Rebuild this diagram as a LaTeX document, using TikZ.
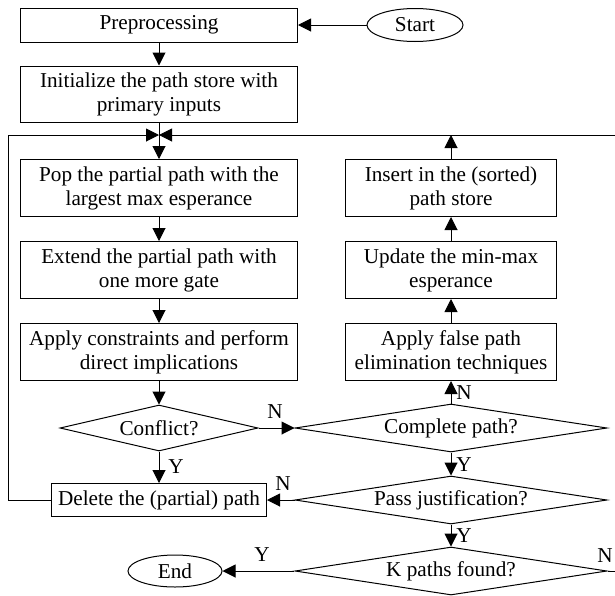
\documentclass[tikz,border=0pt]{standalone}
\usepackage{fontspec}
\setmainfont{Liberation Serif}
\usetikzlibrary{
    arrows.meta,
    shapes.geometric
}

\begin{document}
\begin{tikzpicture}[x=0.5pt, y=-0.5pt, line width=0.5pt,
    font=\fontsize{10.6}{12}\selectfont,
    >={Triangle[length=6.5pt, width=6.5pt]},
    box/.style={draw, rectangle, align=center, inner sep=1pt, minimum width=138.5pt, minimum height=28.5pt},
    sidebox/.style={box, minimum width=105.5pt},
    decision/.style={draw, diamond, aspect=6, inner sep=0pt, minimum width=156pt, minimum height=24pt},
    terminal/.style={draw, ellipse, inner sep=0pt, minimum width=48pt, minimum height=16.5pt},
    lbl/.style={inner sep=0pt}]
                        \useasboundingbox (0, 0) rectangle (615, 595);

                        \node[box, minimum height=17pt] (prep) at (159, 25) {Preprocessing};
                        \node[terminal] (start) at (415, 25) {Start};
                        \node[box, minimum height=28pt] (init) at (159, 94) {Initialize the path store with\\primary inputs};
                        \node[box] (pop) at (159, 188) {Pop the partial path with the\\largest max esperance};
                        \node[box] (extend) at (159, 270) {Extend the partial path with\\one more gate};
                        \node[box] (apply) at (159, 352) {Apply constraints and perform\\direct implications};
                        \node[decision, minimum width=99pt, minimum height=23pt] (conflict) at (159, 428) {Conflict?};
                        \node[box, minimum width=107.5pt, minimum height=16.5pt] (delete) at (159, 500) {Delete the (partial) path};
                        \node[terminal, minimum width=47pt, minimum height=16pt] (stop) at (175, 571) {End};
                        \node[sidebox] (insert) at (451, 188) {Insert in the (sorted)\\path store};
                        \node[sidebox] (update) at (451, 270) {Update the min-max\\esperance};
                        \node[sidebox] (falsepath) at (451, 352) {Apply false path\\elimination techniques};
                        \node[decision] (complete) at (451, 428) {Complete path?};
                        \node[decision] (pass) at (451, 500) {Pass justification?};
                        \node[decision] (kfound) at (451, 571) {K paths found?};

                        \coordinate (join) at (159, 135);
                        \coordinate (top) at (451, 135);
                        \coordinate (loopL) at (8, 135);
                        \coordinate (loopR) at (617, 135);

                        \node[lbl] (yConflict) at (176, 467) {Y};
                        \node[lbl] (nConflict) at (275, 412) {N};
                        \node[lbl] (nComplete) at (464, 393) {N};
                        \node[lbl] (yComplete) at (464, 465) {Y};
                        \node[lbl] (nPass) at (283, 484) {N};
                        \node[lbl] (yPass) at (464, 536) {Y};
                        \node[lbl] (yK) at (262, 555) {Y};
                        \node[lbl] (nK) at (605, 556) {N};

                        \draw
                        (start) edge[->] (prep)
                        (prep) edge[->] (init)
                        (init) edge[->] (pop)
                        (pop) edge[->] (extend)
                        (extend) edge[->] (apply)
                        (apply) edge[->] (conflict)
                        (conflict) edge[->] (delete)
                        (conflict) edge[->] (complete)
                        (complete) edge[->] (falsepath)
                        (falsepath) edge[->] (update)
                        (update) edge[->] (insert)
                        (insert) edge[->] (top)
                        (complete) edge[->] (pass)
                        (pass) edge[->] (delete)
                        (pass) edge[->] (kfound)
                        (kfound) edge[->] (stop);

                        \draw[->] (delete) -| (loopL) -- (join);
                        \draw[->] (kfound) -| (loopR) -- (join);
                    \end{tikzpicture}
\end{document}
